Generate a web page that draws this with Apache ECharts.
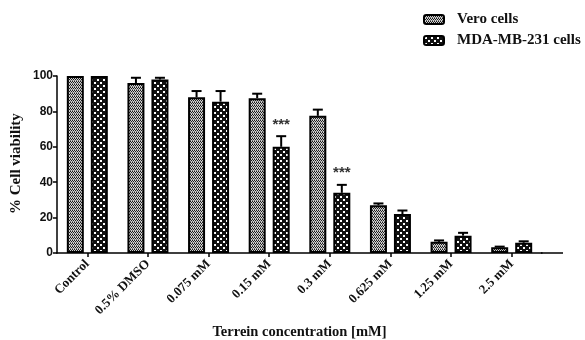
<!DOCTYPE html>
<html><head><meta charset="utf-8">
<script src="https://cdn.jsdelivr.net/npm/echarts@6/dist/echarts.min.js"></script>
<style>html,body{margin:0;padding:0;background:#fff}#c{width:585px;height:340px}</style>
</head><body><div id="c"></div>
<script>
var categories = ['Control','0.5% DMSO','0.075 mM','0.15 mM','0.3 mM','0.625 mM','1.25 mM','2.5 mM'];
var veroValues = [100, 96, 88, 87.5, 77.5, 27, 6.3, 3.2];
var veroErrors = [0, 3, 3.5, 2.5, 3.5, 1, 0.8, 0.4];
var mdaValues = [100, 98, 85.5, 60, 34, 22, 9.8, 5.8];
var mdaErrors = [0, 1, 6, 6, 4.5, 2, 1.6, 0.8];
var mdaStars = ['', '', '', '***', '***', '', '', ''];
var yTicks = [0, 20, 40, 60, 80, 100];

var SERIF = '"Liberation Serif", "Times New Roman", serif';
function makeVero(){
  var c = document.createElement('canvas'); c.width = 2; c.height = 3;
  var g = c.getContext('2d');
  g.fillStyle = '#d0d0d0'; g.fillRect(0,0,2,3);
  g.fillStyle = '#1a1a1a';
  g.fillRect(0,0,1,1); g.fillRect(1,1,1,1);
  g.fillStyle = '#707070'; g.fillRect(0,2,1,1);
  return c;
}
function makeMda(){
  var c = document.createElement('canvas'); c.width = 6; c.height = 6;
  var g = c.getContext('2d');
  g.fillStyle = '#111111'; g.fillRect(0,0,6,6);
  g.fillStyle = '#ffffff';
  g.fillRect(1,1,2,2); g.fillRect(4,4,2,2);
  return c;
}
var veroPat = {image: makeVero(), repeat: 'repeat'};
var mdaPat = {image: makeMda(), repeat: 'repeat'};

var BW = 17, GAP = 7;
function errRender(offset, stars){
  return function(params, api){
    var i = api.value(0), v = api.value(1), e = api.value(2);
    var b = api.coord([i, v]), t = api.coord([i, v + e]);
    var x = b[0] + offset;
    var ch = [];
    if (e > 0) {
      ch.push({type:'line', shape:{x1:x, y1:b[1], x2:x, y2:t[1]}, style:{stroke:'#000', lineWidth:2}});
      ch.push({type:'line', shape:{x1:x-5, y1:t[1], x2:x+5, y2:t[1]}, style:{stroke:'#000', lineWidth:2}});
    }
    var s = stars ? stars[params.dataIndex] : '';
    if (s) {
      ch.push({type:'text', style:{text:s, x:x, y:t[1]-4, align:'center', verticalAlign:'bottom',
        font:'bold 15px "Liberation Sans", Arial', fill:'#333'}});
    }
    return {type:'group', children:ch};
  };
}
function errData(vals, errs){ return vals.map(function(v,i){ return [i, v, errs[i]]; }); }

var chart = echarts.init(document.getElementById('c'));
chart.setOption({
  animation: false,
  backgroundColor: '#fff',
  grid: {left: 57, top: 76, width: 485, height: 177, outerBoundsMode: 'none', containLabel: false},
  legend: {
    orient: 'vertical', left: 423, top: 12, padding: 0, itemWidth: 20, itemHeight: 9, itemGap: 6,
    data: ['Vero cells', 'MDA-MB-231 cells'],
    textStyle: {fontFamily: SERIF, fontWeight: 'bold', fontSize: 15, color: '#111', padding: [0,0,0,8]}
  },
  xAxis: {
    type: 'category', data: categories,
    axisLine: {lineStyle: {color: '#000', width: 1.5}},
    axisTick: {show: true, alignWithLabel: true, length: 4, lineStyle: {color: '#000', width: 1.5}},
    axisLabel: {rotate: 45, interval: 0, margin: 9, color: '#111', fontFamily: SERIF, fontWeight: 'bold', fontSize: 13},
    name: 'Terrein concentration [mM]', nameLocation: 'middle', nameGap: 72,
    nameTextStyle: {fontFamily: SERIF, fontWeight: 'bold', fontSize: 14.5, color: '#111', verticalAlign: 'top'}
  },
  yAxis: {
    type: 'value', min: 0, max: 100, interval: 20,
    axisLine: {show: true, lineStyle: {color: '#000', width: 1.5}},
    axisTick: {show: true, length: 4, lineStyle: {color: '#000', width: 1.5}},
    splitLine: {show: false},
    axisLabel: {margin: 4, color: '#111', fontFamily: '"Liberation Sans", Arial, sans-serif', fontWeight: 'bold', fontSize: 12,
      formatter: function(v){ return yTicks.indexOf(v) >= 0 ? String(v) : ''; }}
  },
  graphic: [
    {type: 'text', x: 9, y: 214, rotation: Math.PI/2,
      style: {text: '% Cell viability', font: 'bold 15px "Liberation Serif", "Times New Roman", serif', fill: '#111', textAlign: 'left', textVerticalAlign: 'top'}},
    {type: 'line', shape: {x1: 541, y1: 253, x2: 563, y2: 253}, style: {stroke: '#000', lineWidth: 1.5}, z: 10}
  ],
  series: [
    {name: 'Vero cells', type: 'bar', data: veroValues, barWidth: BW, barGap: (GAP/BW*100)+'%',
      itemStyle: {color: veroPat, borderColor: '#000', borderWidth: 2}},
    {name: 'MDA-MB-231 cells', type: 'bar', data: mdaValues, barWidth: BW,
      itemStyle: {color: mdaPat, borderColor: '#000', borderWidth: 2}},
    {type: 'custom', renderItem: errRender(-(BW+GAP)/2, null), data: errData(veroValues, veroErrors), z: 5},
    {type: 'custom', renderItem: errRender((BW+GAP)/2, mdaStars), data: errData(mdaValues, mdaErrors), z: 5}
  ]
});
</script></body></html>
